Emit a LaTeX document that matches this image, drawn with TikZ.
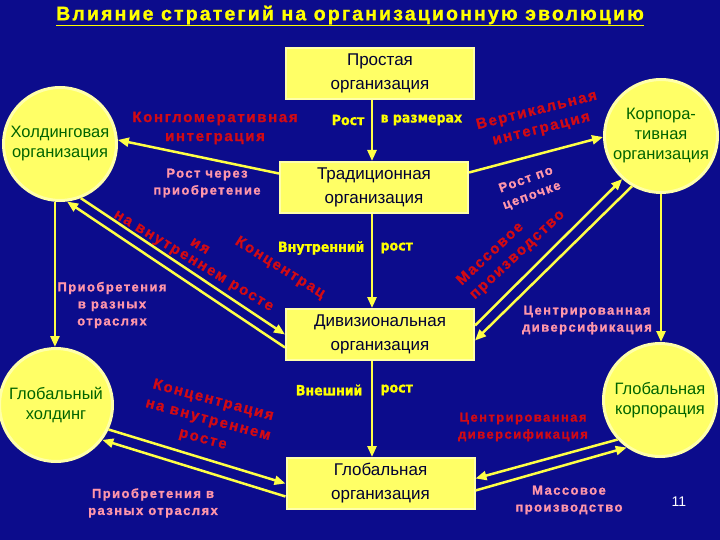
\documentclass[tikz,border=0pt]{standalone}
\usepackage{fontspec}
\setmainfont{Liberation Sans}
\newfontfamily\labelfont{Liberation Sans Bold}[LetterSpace=11,FakeBold=1.2]
\newfontfamily\condfont{DejaVu Sans Condensed Bold}[FakeBold=1]
\usetikzlibrary{arrows.meta}
\definecolor{bgblue}{RGB}{12,12,140}
\definecolor{boxfill}{RGB}{255,255,102}
\definecolor{boxedge}{RGB}{255,255,170}
\definecolor{arrowyel}{RGB}{255,255,70}
\definecolor{labred}{RGB}{210,10,20}
\definecolor{labpink}{RGB}{255,150,170}
\definecolor{growyel}{RGB}{255,255,0}
\definecolor{greentext}{RGB}{0,100,0}
\definecolor{navytext}{RGB}{0,0,51}

\begin{document}
\begin{tikzpicture}[x=1pt,y=-1pt,
  orgbox/.style={draw=boxedge,line width=2pt,fill=boxfill,minimum width=188,minimum height=51,
    align=center,text=navytext,font=\fontsize{17}{24}\selectfont},
  orgcirc/.style={circle,draw=boxedge,line width=3pt,fill=boxfill,minimum size=113,inner sep=0pt,
    align=center,text=greentext,font=\fontsize{16.5}{20}\selectfont},
  arr/.style={draw=arrowyel,line width=2.5pt,-{Triangle[length=11pt,width=9pt]}},
  redlab/.style={text=labred,align=center,font=\labelfont\fontsize{15}{19}\selectfont},
  pinklab/.style={text=labpink,align=center,font=\labelfont\fontsize{13}{17}\selectfont},
  growlab/.style={text=growyel,font=\condfont\fontsize{14}{17}\selectfont}]
\fill[bgblue] (0,0) rectangle (720,540);
\useasboundingbox (0,0) rectangle (720,540);

\node[text=growyel,font=\labelfont\fontsize{19.5}{21}\selectfont] (title) at (350,16)
  {\underline{Влияние стратегий на организационную эволюцию}};

% organisations
\node[orgbox] (simple) at (380,73.5) {Простая\\организация};
\node[orgbox] (trad) at (374,187.5) {Традиционная\\организация};
\node[orgbox] (divis) at (380,334.5) {Дивизиональная\\организация};
\node[orgbox] (global) at (380.5,483.5) {Глобальная\\организация};
\node[orgcirc] (holding) at (60,144) {Холдинговая\\организация};
\node[orgcirc] (corp) at (661,136) {Корпора-\\тивная\\организация};
\node[orgcirc] (gholding) at (56,405) {Глобальный\\холдинг};
\node[orgcirc] (gcorp) at (660,400) {Глобальная\\корпорация};

% strategies
\node[redlab] (conglo) at (215,128) {Конгломеративная\\интеграция};
\node[pinklab] (acq) at (207,183) {Рост через\\приобретение};
\node[pinklab] (acqleft) at (112,305) {Приобретения\\в разных\\отраслях};
\node[pinklab] (acqbot) at (153,503) {Приобретения в\\разных отраслях};
\node[redlab,rotate=14] (vert) at (539,120) {Вертикальная\\интеграция};
\node[pinklab,rotate=20] (chain) at (529,188) {Рост по\\цепочке};
\node[redlab,rotate=43,align=left] (mass) at (511,248) {Массовое\\производство};
\node[pinklab] (cdiv) at (587,320) {Центрированная\\диверсификация};
\node[redlab,font=\labelfont\fontsize{13}{17}\selectfont] (cdivred) at (523,427)
  {Центрированная\\диверсификация};
\node[pinklab] (massbot) at (569,500) {Массовое\\производство};
\node[redlab,rotate=-15,font=\labelfont\fontsize{15}{20}\selectfont] (concbot) at (208,420)
  {Концентрация\\на внутреннем\\росте};
\node[redlab,rotate=-31] (inner) at (193,262) {на внутреннем росте};
\node[redlab,rotate=-32] (concA) at (280,268) {Концентрац};
\node[redlab,rotate=-31] (concB) at (200,246) {ия};

\node[growlab,anchor=east] (sizeA) at (368,120) {Рост};
\node[growlab,anchor=west] (sizeB) at (377,120) {в размерах};
\node[growlab,anchor=east] (innerA) at (368,248) {Внутренний};
\node[growlab,anchor=west] (innerB) at (377,248) {рост};
\node[growlab,anchor=east] (outerA) at (366,390) {Внешний};
\node[growlab,anchor=west] (outerB) at (377,390) {рост};

\node[text=white,font=\fontsize{14}{16}\selectfont] (pagenum) at (679,502) {11};

% connectors
\draw[arr] ([xshift=-8pt]simple.south) -- ([xshift=-8pt]simple.south |- trad.north);
\draw[arr] ([xshift=-2pt]trad.south) -- ([xshift=-2pt]trad.south |- divis.north);
\draw[arr] ([xshift=-8pt]divis.south) -- ([xshift=-8pt]divis.south |- global.north);
\draw[arr] ([yshift=14pt]trad.west) -- (holding.4);
\draw[arr] ([yshift=15pt]trad.east) -- (corp.181);
\draw[arr] (holding.265) -- (holding.265 |- gholding.north);
\draw[arr] (corp.south) -- (corp.south |- gcorp.north);
\draw[arr] (holding.-69) -- (divis.west);
\draw[arr] ([yshift=-13pt]divis.west) -- (holding.-83);
\draw[arr] ([yshift=9pt]divis.east) -- (corp.228);
\draw[arr] (corp.240) -- ([yshift=-6pt]divis.east);
\draw[arr] (gholding.-25) -- (global.west);
\draw[arr] ([yshift=-13pt]global.west) -- (gholding.-37);
\draw[arr] (gcorp.223) -- ([yshift=5pt]global.east);
\draw[arr] ([yshift=-7pt]global.east) -- (gcorp.235);
\end{tikzpicture}
\end{document}
